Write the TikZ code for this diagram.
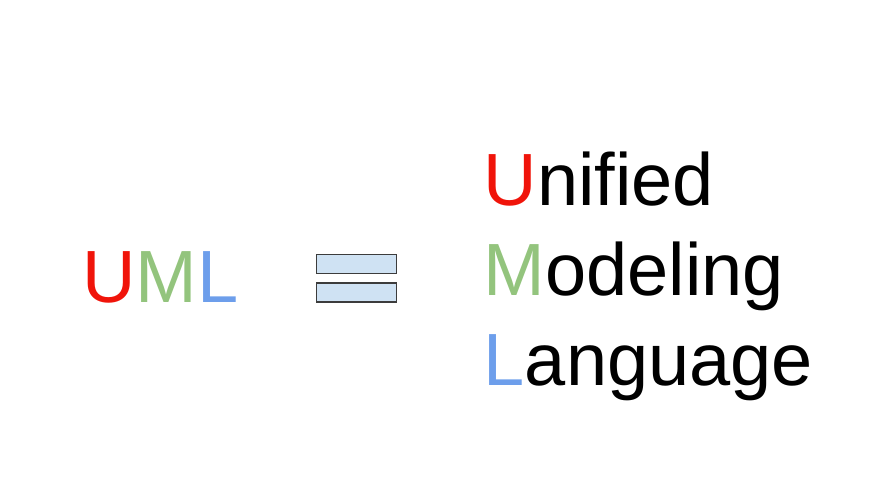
\documentclass[tikz,border=0pt]{standalone}
\usepackage{fontspec}
\setmainfont{Liberation Sans}
\usetikzlibrary{positioning}
\begin{document}
\begin{tikzpicture}[x=1pt,y=1pt]
    \definecolor{umlred}{RGB}{240,20,10};
    \definecolor{umlgreen}{RGB}{147,196,125};
    \definecolor{umlblue}{RGB}{109,158,235};
    \definecolor{barfill}{RGB}{207,226,243};
    \definecolor{barline}{RGB}{60,60,60};
\useasboundingbox (0,0) rectangle (885,-495);
 \tikzstyle{every node}=[inner sep=0pt,font=\fontsize{74}{90}\selectfont];
\node [anchor=base west] (uml) at (82,-302) {{\color{umlred}U}{\color{umlgreen}M}{\color{umlblue}L}};
 \tikzstyle{every node}=[draw=barline,line width=1.7pt,fill=barfill,minimum width=80,minimum height=19];
\node (bartop) at (356.5,-264) {};
\node (barbottom) at (356.5,-292.5) {};
 \tikzstyle{every node}=[inner sep=0pt,anchor=base west,font=\fontsize{74}{90}\selectfont];
\node (unified) at (483.5,-205) {{\color{umlred}U}nified};
\node (modeling) at (483.5,-295) {{\color{umlgreen}M}odeling};
\node (language) at (483.5,-385) {{\color{umlblue}L}anguage};
\end{tikzpicture}
\end{document}
